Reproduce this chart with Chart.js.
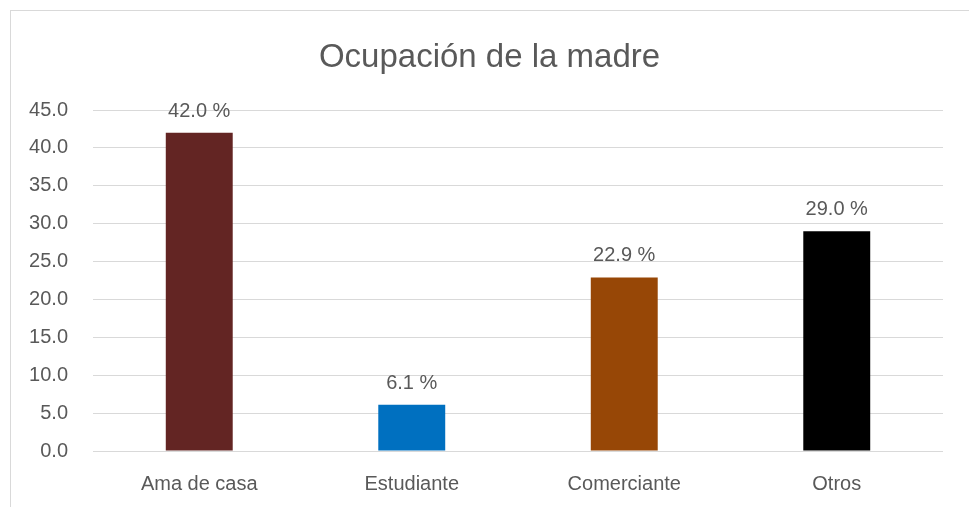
<!DOCTYPE html>
<html lang="es">
<head>
  <meta charset="UTF-8" />
  <title>Ocupación de la madre</title>
  <script src="https://cdn.jsdelivr.net/npm/chart.js"></script>
  <style>
    body { margin: 0; background: #fff; overflow: hidden; }
    #marco { position: absolute; left: 10px; top: 10px; width: 1200px; height: 800px;
             border-left: 1px solid #d9d9d9; border-top: 1px solid #d9d9d9; }
    #grafico { position: absolute; left: 0; top: 0; }
  </style>
</head>
<body>
  <div id="marco"></div>
  <canvas id="grafico" width="969" height="507"></canvas>

  <script>
    // datos
    const categorias = ['Ama de casa', 'Estudiante', 'Comerciante', 'Otros'];
    const porcentajes = [42.0, 6.1, 22.9, 29.0];
    const colores = ['#632523', '#0070C0', '#974706', '#000000'];

    const gris = '#595959';
    const fuente = 'Liberation Sans, Arial, sans-serif';

    // etiquetas encima de cada barra
    const etiquetas = {
      id: 'etiquetas',
      afterLayout(chart) {
        // el título del original está centrado en todo el marco, no en el área
        if (chart.titleBlock) {
          chart.titleBlock.left += 18;
          chart.titleBlock.right += 18;
        }
      },
      afterDatasetsDraw(chart) {
        const ctx = chart.ctx;
        const meta = chart.getDatasetMeta(0);
        ctx.save();
        ctx.font = '20px ' + fuente;
        ctx.fillStyle = gris;
        ctx.textAlign = 'center';
        ctx.textBaseline = 'alphabetic';
        meta.data.forEach((bar, i) => {
          ctx.fillText(porcentajes[i].toFixed(1) + ' %', bar.x, bar.y - 16);
        });
        ctx.restore();
      }
    };

    new Chart(document.getElementById('grafico'), {
      type: 'bar',
      data: {
        labels: categorias,
        datasets: [{
          data: porcentajes,
          backgroundColor: colores,
          barPercentage: 0.315,
          categoryPercentage: 1.0
        }]
      },
      options: {
        responsive: false,
        animation: false,
        layout: { padding: { left: 0, right: 26, top: 0, bottom: 0 } },
        plugins: {
          legend: { display: false },
          tooltip: { enabled: false },
          title: {
            display: true,
            text: 'Ocupación de la madre',
            color: gris,
            font: { family: fuente, size: 33, weight: 'normal', lineHeight: 1.2 },
            padding: { top: 38, bottom: 32.4 }
          }
        },
        scales: {
          x: {
            grid: { display: false, drawTicks: false },
            border: { display: false },
            ticks: { color: gris, font: { family: fuente, size: 20 }, padding: 21 },
            afterFit(scale) { scale.height = 56; }
          },
          y: {
            min: 0,
            max: 45,
            grid: { color: '#d9d9d9', drawTicks: false },
            border: { display: false },
            ticks: {
              stepSize: 5,
              color: gris,
              font: { family: fuente, size: 20 },
              padding: 25,
              callback: v => v.toFixed(1)
            },
            afterFit(scale) { scale.width = 93; }
          }
        }
      },
      plugins: [etiquetas]
    });
  </script>
</body>
</html>
